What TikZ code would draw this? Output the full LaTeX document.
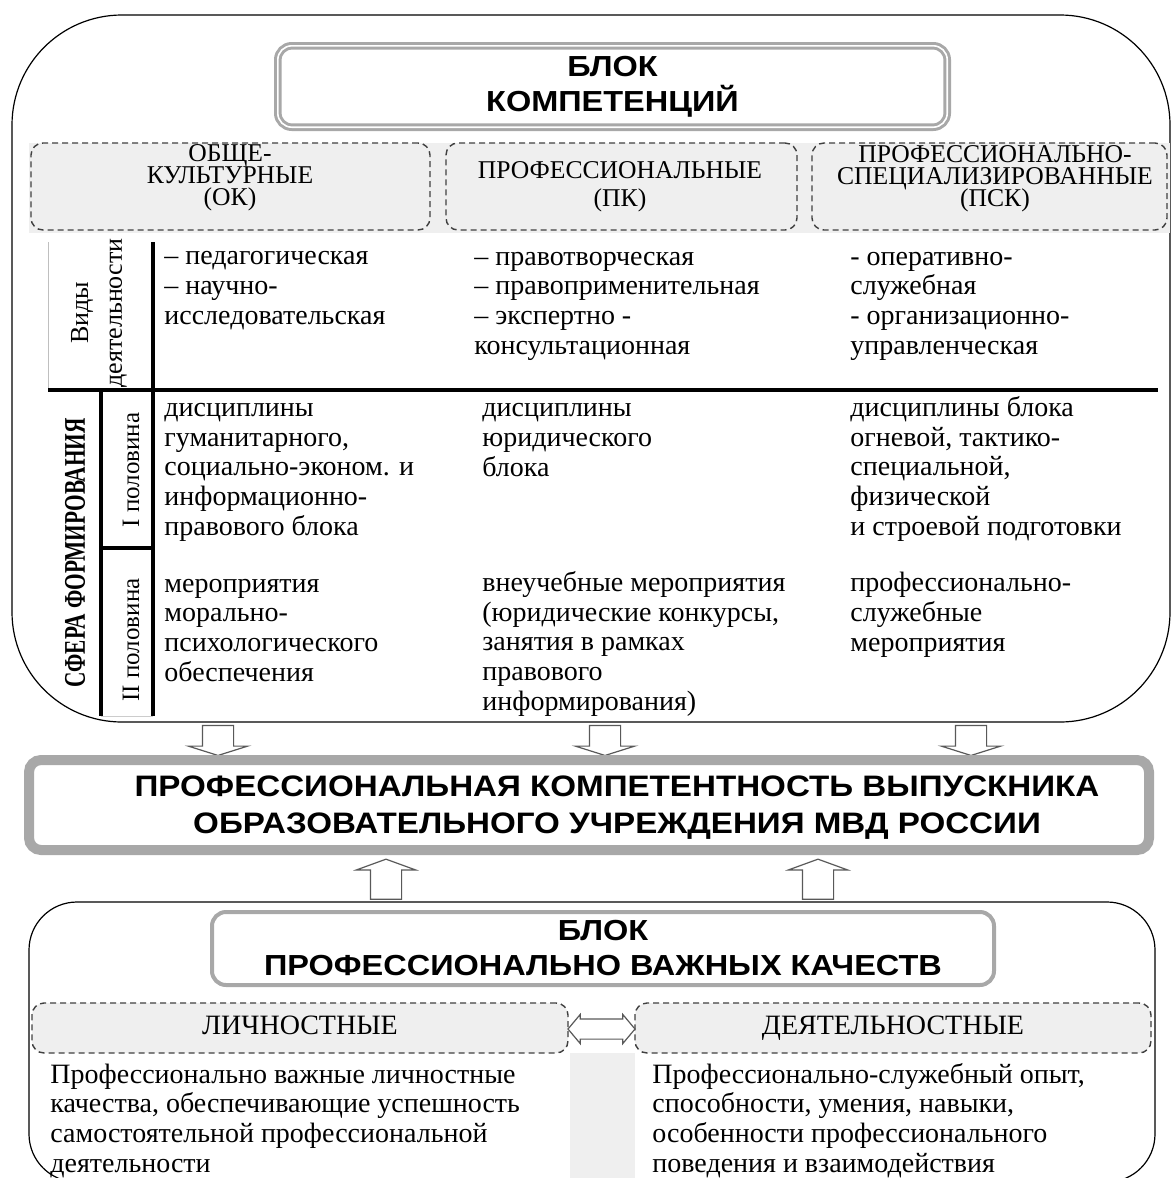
\documentclass[tikz,border=0pt]{standalone}
\usepackage{fontspec}
\usepackage{graphicx}
\setmainfont{Liberation Serif}
\newfontfamily\headsans[FakeStretch=1.12]{Liberation Sans}
\usetikzlibrary{shapes.arrows}
\definecolor{bandgray}{HTML}{EFEFEF}
\definecolor{framegray}{HTML}{A8A8A8}
\newcommand\tightlines{\lineskiplimit=-20pt\relax}

\begin{document}
\begin{tikzpicture}[x=0.5pt, y=-0.5pt,
	cell/.style={anchor=base west, align=left, inner sep=0pt, font=\fontsize{14}{14.8}\selectfont},
	capbox/.style={draw=black!75, line width=0.7pt, dash pattern=on 3pt off 2pt, fill=bandgray, rounded corners=6pt, inner sep=0pt},
	captext/.style={anchor=base, align=center, inner sep=0pt, font=\fontsize{12.8}{11}\selectfont\tightlines},
	headtext/.style={align=center, inner sep=0pt, font=\headsans\bfseries\fontsize{14.5}{17.5}\selectfont},
	sidetext/.style={rotate=90, align=center, inner sep=0pt, font=\fontsize{13}{17}\selectfont},
	thickrule/.style={line width=1.6pt},
	blockarrow/.style={draw=black!65, fill=white, line width=0.6pt, inner xsep=0pt},
	downarrow/.style={blockarrow, single arrow, rotate=-90, minimum height=15pt, inner ysep=7.5pt, single arrow head extend=7pt, single arrow tip angle=145},
	uparrow/.style={blockarrow, single arrow, rotate=90, minimum height=20pt, inner ysep=7.5pt, single arrow head extend=7pt, single arrow tip angle=140}
	]
	\useasboundingbox (0,0) rectangle (1171,1178);

	\draw[line width=0.6pt, rounded corners=55pt] (12,15) rectangle (1170,722);
	\node[draw=framegray, line width=1.5pt, double=white, double distance=0.8pt, rounded corners=7pt, minimum width=334.7pt, minimum height=40.7pt, headtext] (compblock) at (612.5, 86.5) {БЛОК\\КОМПЕТЕНЦИЙ};

	\fill[bandgray] (29,143) rectangle (1170,233);
	\node[capbox, minimum width=199.5pt, minimum height=43.5pt] (okbox) at (230.5, 186.5) {};
	\node[capbox, minimum width=175.5pt, minimum height=43.5pt] (pkbox) at (621.5, 186.5) {};
	\node[capbox, minimum width=177.5pt, minimum height=43.5pt] (pskbox) at (989.5, 186.5) {};
	\node[captext] (oktext) at (230, 205) {ОБЩЕ-\\КУЛЬТУРНЫЕ\\(ОК)};
	\node[captext, font=\fontsize{12.8}{14}\selectfont] (pktext) at (620, 206) {ПРОФЕССИОНАЛЬНЫЕ\\(ПК)};
	\node[captext] (psktext) at (995, 206) {ПРОФЕССИОНАЛЬНО-\\СПЕЦИАЛИЗИРОВАННЫЕ\\(ПСК)};

	\draw[gray!50, line width=0.5pt] (48,242) -- (48,390);
	\draw[thickrule] (48,390) -- (1158,390);
	\draw[thickrule] (153,242) -- (153,716);
	\draw[thickrule] (101,390) -- (101,716);
	\draw[thickrule] (101,548) -- (153,548);
	\draw[gray!40, line width=0.5pt] (101,716) -- (153,716);

	\node[sidetext] (kinds) at (99, 313) {Виды\\деятельности};
	\node[sidetext, font=\bfseries\fontsize{15}{17}\selectfont] (sphere) at (75, 553) {\scalebox{0.71}[1]{СФЕРА ФОРМИРОВАНИЯ}};
	\node[sidetext, font=\fontsize{12.5}{15}\selectfont] (firsthalf) at (131, 470) {I половина};
	\node[sidetext, font=\fontsize{12.5}{15}\selectfont] (secondhalf) at (131, 640) {II половина};

	\node[cell] (typesok) at (164, 324) {– педагогическая\\– научно-\\исследовательская};
	\node[cell] (typespk) at (474, 354) {– правотворческая\\– правоприменительная\\– экспертно -\\консультационная};
	\node[cell] (typespsk) at (850, 354) {- оперативно-\\служебная\\- организационно-\\управленческая};

	\node[cell] (firstok) at (164, 535) {дисциплины\\гуманитарного,\\социально-эконом. и\\информационно-\\правового блока};
	\node[cell] (firstpk) at (482, 476) {дисциплины\\юридического\\блока};
	\node[cell] (firstpsk) at (850, 535) {дисциплины блока\\огневой, тактико-\\специальной,\\физической\\и строевой подготовки};

	\node[cell] (secondok) at (164, 681) {мероприятия\\морально-\\психологического\\обеспечения};
	\node[cell] (secondpk) at (482, 710) {внеучебные мероприятия\\(юридические конкурсы,\\занятия в рамках\\правового\\информирования)};
	\node[cell] (secondpsk) at (850, 651) {профессионально-\\служебные\\мероприятия};

	\node[downarrow] (arrowok) at (218, 738) {};
	\node[downarrow] (arrowpk) at (605, 738) {};
	\node[downarrow] (arrowpsk) at (971, 738) {};

	\node[draw=framegray, line width=5pt, rounded corners=6pt, minimum width=560pt, minimum height=45pt] (graduate) at (589, 805) {};
	\node[headtext, font=\headsans\bfseries\fontsize{14.8}{18.5}\selectfont] (gradtext) at (617, 808) {ПРОФЕССИОНАЛЬНАЯ КОМПЕТЕНТНОСТЬ ВЫПУСКНИКА\\ОБРАЗОВАТЕЛЬНОГО УЧРЕЖДЕНИЯ МВД РОССИИ};

	\node[uparrow] (arrowpers) at (386, 882) {};
	\node[uparrow] (arrowact) at (818, 882) {};

	\draw[line width=0.6pt, rounded corners=24pt] (29,902) rectangle (1155,1182);
	\node[draw=framegray, line width=2pt, rounded corners=7pt, minimum width=391pt, minimum height=36.5pt, headtext] (qualblock) at (603, 948.5) {БЛОК\\ПРОФЕССИОНАЛЬНО ВАЖНЫХ КАЧЕСТВ};

	\fill[bandgray] (570,1053) rectangle (635,1178);
	\node[capbox, minimum width=268pt, minimum height=25pt, text height=9.5pt, text depth=3pt, font=\fontsize{14}{16}\selectfont] (persbox) at (300, 1028) {ЛИЧНОСТНЫЕ};
	\node[capbox, minimum width=258pt, minimum height=25pt, text height=9.5pt, text depth=3pt, font=\fontsize{14}{16}\selectfont] (actbox) at (893, 1028) {ДЕЯТЕЛЬНОСТНЫЕ};
	\node[blockarrow, double arrow, minimum height=33.5pt, inner ysep=4.75pt, double arrow head extend=2.25pt, double arrow tip angle=100] (linkarrow) at (601.5, 1029) {};

	\node[cell] (perstext) at (50, 1172) {Профессионально важные личностные\\качества, обеспечивающие успешность\\самостоятельной профессиональной\\деятельности};
	\node[cell] (acttext) at (652, 1172) {Профессионально-служебный опыт,\\способности, умения, навыки,\\особенности профессионального\\поведения и взаимодействия};
\end{tikzpicture}
\end{document}
